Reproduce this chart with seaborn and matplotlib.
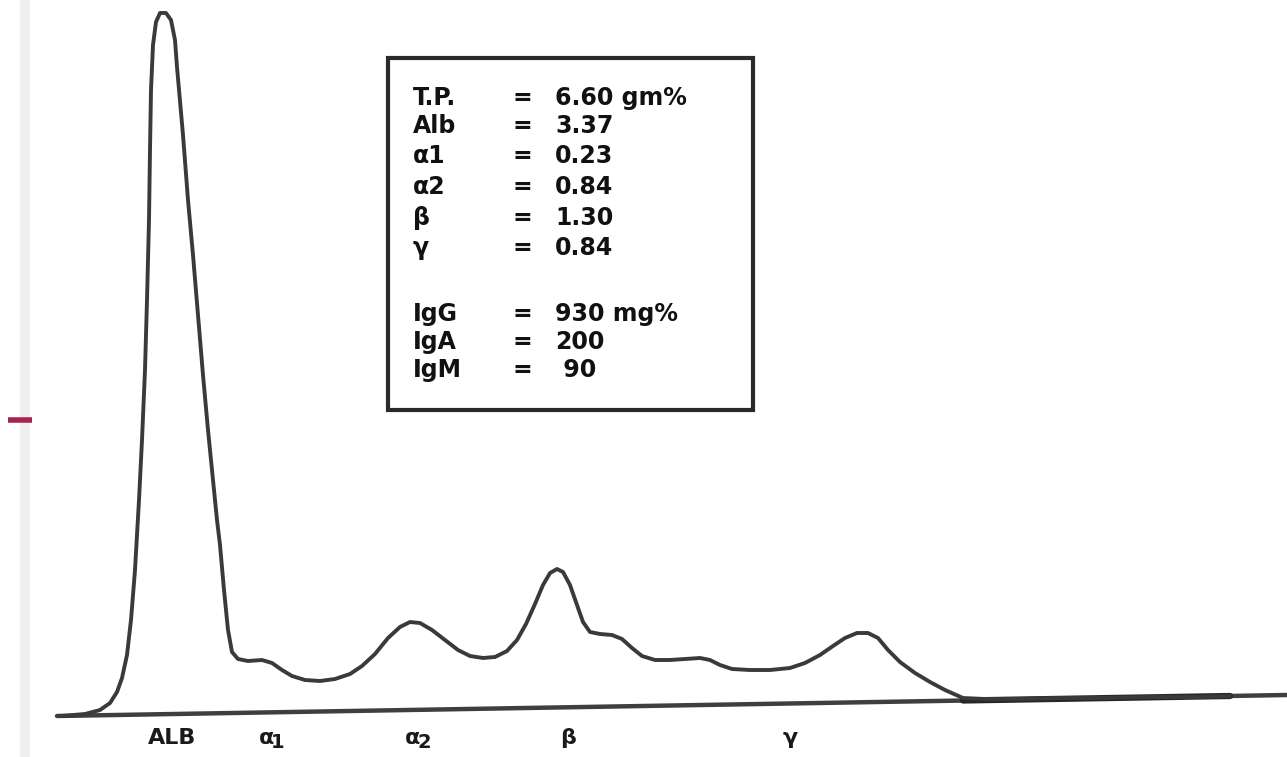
import seaborn as sns
import matplotlib.pyplot as plt
import pandas as pd
import numpy as np

# densitometer trace (x along the strip, height = 757 - pixel row)
trace_x = [62, 85, 100, 110, 117, 122, 127, 131, 135, 139, 142, 145, 147, 149, 150, 151, 153, 156, 160, 166,
           171, 175, 177, 183, 188, 193, 198, 203, 208, 213, 217, 220, 224, 228, 232, 238,
           248, 262, 272, 282, 292, 305, 320, 335, 350, 362, 375, 388, 400, 410, 420, 432, 445, 458, 470,
           483, 495, 507, 517, 526, 535, 543, 550, 557, 563, 570, 577, 583, 590, 600, 612, 622, 632, 642,
           655, 670, 685, 700, 710, 720, 732, 750, 770, 790, 805, 820, 833, 845, 857, 868, 878, 888, 900,
           915, 930, 945, 963, 985, 1020, 1060, 1100, 1150, 1200, 1230]
trace_row = [716, 714, 710, 703, 692, 678, 655, 620, 570, 500, 440, 370, 300, 220, 150, 90, 45, 22, 13, 13,
             20, 40, 67, 135, 200, 255, 315, 375, 430, 480, 520, 545, 590, 630, 652, 659,
             661, 660, 663, 670, 676, 680, 681, 679, 674, 666, 654, 638, 627, 622, 623, 630, 640, 650, 656,
             658, 657, 651, 640, 624, 604, 585, 573, 569, 572, 585, 605, 622, 632, 634, 635, 639, 648, 656,
             660, 660, 659, 658, 660, 665, 669, 670, 670, 668, 663, 655, 646, 638, 633, 633, 638, 650, 662,
             673, 682, 690, 698, 699, 699, 698, 698, 697, 697, 696]

fraction_names = ["ALB", "α", "α", "β", "γ"]
fraction_subs = ["", "1", "2", "", ""]
fraction_x = [172, 266, 412, 568, 790]

box_labels = ["T.P.", "Alb", "α1", "α2", "β", "γ", "IgG", "IgA", "IgM"]
box_values = ["6.60 gm%", "3.37", "0.23", "0.84", "1.30", "0.84", "930 mg%", "200", " 90"]
box_rows = [98, 126, 156, 187, 218, 248, 314, 342, 370]

H = 757
df = pd.DataFrame({"x": trace_x, "h": [H - r for r in trace_row]})

sns.set_style("white")
fig = plt.figure(figsize=(12.87, 7.57), dpi=100)
ax = fig.add_axes([0, 0, 1, 1])

# faint strip edge and red marker at left
ax.plot([25, 25], [0, H], color="#efefef", lw=7, zorder=0)
ax.plot([8, 32], [H - 420, H - 420], color="#a8234f", lw=4, solid_capstyle="butt")

# baseline (slightly tilted on the scan)
ax.plot([57, 1287], [H - 716, H - 695], color="#3f3f3f", lw=3.2)
ax.plot([963, 1230], [H - 700.5, H - 696], color="#262626", lw=4.5)

sns.lineplot(data=df, x="x", y="h", sort=False, color="#3a3a3a", linewidth=2.8, ax=ax)

for name, sub, fx in zip(fraction_names, fraction_subs, fraction_x):
    ax.text(fx, H - 738, name, ha="center", va="center", fontsize=16, fontweight="bold", color="#1a1a1a")
    if sub:
        ax.text(fx + 12, H - 742, sub, ha="center", va="center", fontsize=14, fontweight="bold", color="#1a1a1a")

# results box
ax.add_patch(plt.Rectangle((388, H - 410), 365, 352, fill=False, ec="#2a2a2a", lw=3))
for lab, val, r in zip(box_labels, box_values, box_rows):
    ax.text(413, H - r, lab, ha="left", va="center", fontsize=17, fontweight="bold", color="#111111")
    ax.text(522, H - r, "=", ha="center", va="center", fontsize=17, fontweight="bold", color="#111111")
    ax.text(555, H - r, val, ha="left", va="center", fontsize=17, fontweight="bold", color="#111111")

ax.set_xlim(0, 1287)
ax.set_ylim(0, H)
ax.set_xlabel("")
ax.set_ylabel("")
ax.axis("off")

plt.savefig("out.png", dpi=100)
